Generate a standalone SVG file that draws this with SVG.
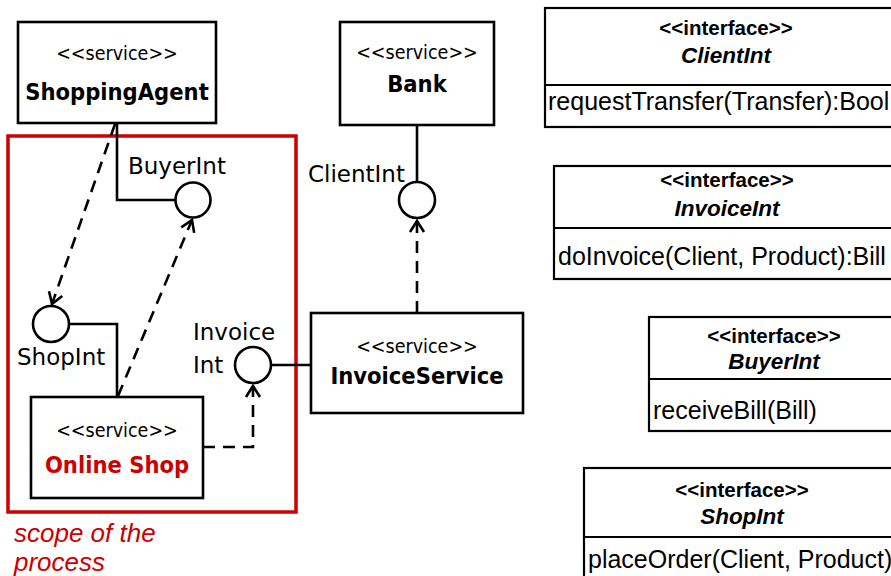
<svg xmlns="http://www.w3.org/2000/svg" width="891" height="576" viewBox="0 0 891 576">
  <defs>
    <marker id="open-arrow" markerUnits="userSpaceOnUse" markerWidth="16" markerHeight="18" viewBox="0 0 16 18" refX="13" refY="9" orient="auto">
      <path d="M2,2 L13,9 L2,16" fill="none" stroke="#000" stroke-width="2.6"/>
    </marker>
    <style>
      .box { fill: #fff; stroke: #000; stroke-width: 2.6; }
      .ibox { fill: #fff; stroke: #000; stroke-width: 2.2; }
      .lolly { fill: #fff; stroke: #000; stroke-width: 2.6; }
      .wire { fill: none; stroke: #000; stroke-width: 2.6; }
      .dep { fill: none; stroke: #000; stroke-width: 2.6; stroke-dasharray: 12 8; }
      .stereo { font-family: "DejaVu Sans Condensed", "DejaVu Sans", sans-serif; font-stretch: condensed; font-size: 19.5px; text-anchor: middle; fill: #000; }
      .sname { font-family: "DejaVu Sans Condensed", "DejaVu Sans", sans-serif; font-stretch: condensed; font-weight: bold; font-size: 23.5px; text-anchor: middle; fill: #000; }
      .lbl { font-family: "DejaVu Sans", sans-serif; font-size: 23px; fill: #000; }
      .istereo { font-family: "Liberation Sans", Arial, sans-serif; font-weight: bold; font-size: 20.5px; text-anchor: middle; fill: #000; }
      .iname { font-family: "Liberation Sans", Arial, sans-serif; font-weight: bold; font-style: italic; font-size: 22.5px; text-anchor: middle; fill: #000; }
      .op { font-family: "Liberation Sans", Arial, sans-serif; font-size: 25px; fill: #000; }
      .scope { font-family: "Liberation Sans", Arial, sans-serif; font-style: italic; font-size: 26px; fill: #cc0000; }
    </style>
  </defs>

  <!-- process scope frame -->
  <g id="scope">
    <rect x="8" y="136" width="288" height="376" fill="none" stroke="#cc0000" stroke-width="3.5"/>
    <text class="scope" x="14" y="542">scope of the</text>
    <text class="scope" x="14" y="571">process</text>
  </g>

  <!-- connectors -->
  <g id="connectors">
    <polyline class="wire" points="117,123 117,200 175,200"/>
    <polyline class="wire" points="117,397 117,324 69,324"/>
    <line class="wire" x1="417" y1="125" x2="417" y2="182"/>
    <line class="wire" x1="311" y1="365" x2="271" y2="365"/>
    <line class="dep" x1="115" y1="124" x2="52" y2="304" marker-end="url(#open-arrow)"/>
    <line class="dep" x1="118" y1="396" x2="192" y2="220" marker-end="url(#open-arrow)"/>
    <line class="dep" x1="417" y1="313" x2="417" y2="221" marker-end="url(#open-arrow)"/>
    <polyline class="dep" points="203,447 253,447 253,386" marker-end="url(#open-arrow)"/>
  </g>

  <!-- provided interfaces (lollipops) -->
  <g id="buyer-int">
    <circle class="lolly" cx="193" cy="200" r="17.5"/>
    <text class="lbl" x="128" y="174">BuyerInt</text>
  </g>
  <g id="shop-int">
    <circle class="lolly" cx="51" cy="324" r="18"/>
    <text class="lbl" x="17" y="365">ShopInt</text>
  </g>
  <g id="invoice-int">
    <circle class="lolly" cx="253" cy="365" r="18"/>
    <text class="lbl" x="193" y="340">Invoice</text>
    <text class="lbl" x="193" y="373">Int</text>
  </g>
  <g id="client-int">
    <circle class="lolly" cx="417" cy="200" r="18"/>
    <text class="lbl" x="308" y="182">ClientInt</text>
  </g>

  <!-- services -->
  <g id="shopping-agent">
    <rect class="box" x="18" y="22" width="198" height="101"/>
    <text class="stereo" x="117" y="60">&lt;&lt;service&gt;&gt;</text>
    <text class="sname" x="117" y="100">ShoppingAgent</text>
  </g>
  <g id="bank">
    <rect class="box" x="340" y="22" width="154" height="103"/>
    <text class="stereo" x="417" y="59">&lt;&lt;service&gt;&gt;</text>
    <text class="sname" x="417" y="92">Bank</text>
  </g>
  <g id="invoice-service">
    <rect class="box" x="311" y="313" width="212" height="100"/>
    <text class="stereo" x="417" y="353">&lt;&lt;service&gt;&gt;</text>
    <text class="sname" x="417" y="384">InvoiceService</text>
  </g>
  <g id="online-shop">
    <rect class="box" x="31" y="397" width="172" height="101"/>
    <text class="stereo" x="117" y="437">&lt;&lt;service&gt;&gt;</text>
    <text class="sname" x="117" y="473" style="fill:#cc0000">Online Shop</text>
  </g>

  <!-- interface definitions -->
  <g id="iface-client">
    <rect class="ibox" x="545" y="8" width="400" height="119"/>
    <line class="ibox" x1="545" y1="85" x2="945" y2="85"/>
    <text class="istereo" x="726" y="35">&lt;&lt;interface&gt;&gt;</text>
    <text class="iname" x="726" y="63">ClientInt</text>
    <text class="op" x="548" y="110">requestTransfer(Transfer):Bool</text>
  </g>
  <g id="iface-invoice">
    <rect class="ibox" x="554" y="166" width="400" height="113"/>
    <line class="ibox" x1="554" y1="228" x2="954" y2="228"/>
    <text class="istereo" x="727" y="187">&lt;&lt;interface&gt;&gt;</text>
    <text class="iname" x="727" y="216">InvoiceInt</text>
    <text class="op" x="558" y="265">doInvoice(Client, Product):Bill</text>
  </g>
  <g id="iface-buyer">
    <rect class="ibox" x="649" y="317" width="300" height="114"/>
    <line class="ibox" x1="649" y1="379" x2="949" y2="379"/>
    <text class="istereo" x="774" y="343">&lt;&lt;interface&gt;&gt;</text>
    <text class="iname" x="774" y="369">BuyerInt</text>
    <text class="op" x="653" y="419">receiveBill(Bill)</text>
  </g>
  <g id="iface-shop">
    <rect class="ibox" x="584" y="468" width="360" height="140"/>
    <line class="ibox" x1="584" y1="537" x2="944" y2="537"/>
    <text class="istereo" x="742" y="497">&lt;&lt;interface&gt;&gt;</text>
    <text class="iname" x="742" y="524">ShopInt</text>
    <text class="op" x="588" y="568">placeOrder(Client, Product)</text>
  </g>
</svg>
